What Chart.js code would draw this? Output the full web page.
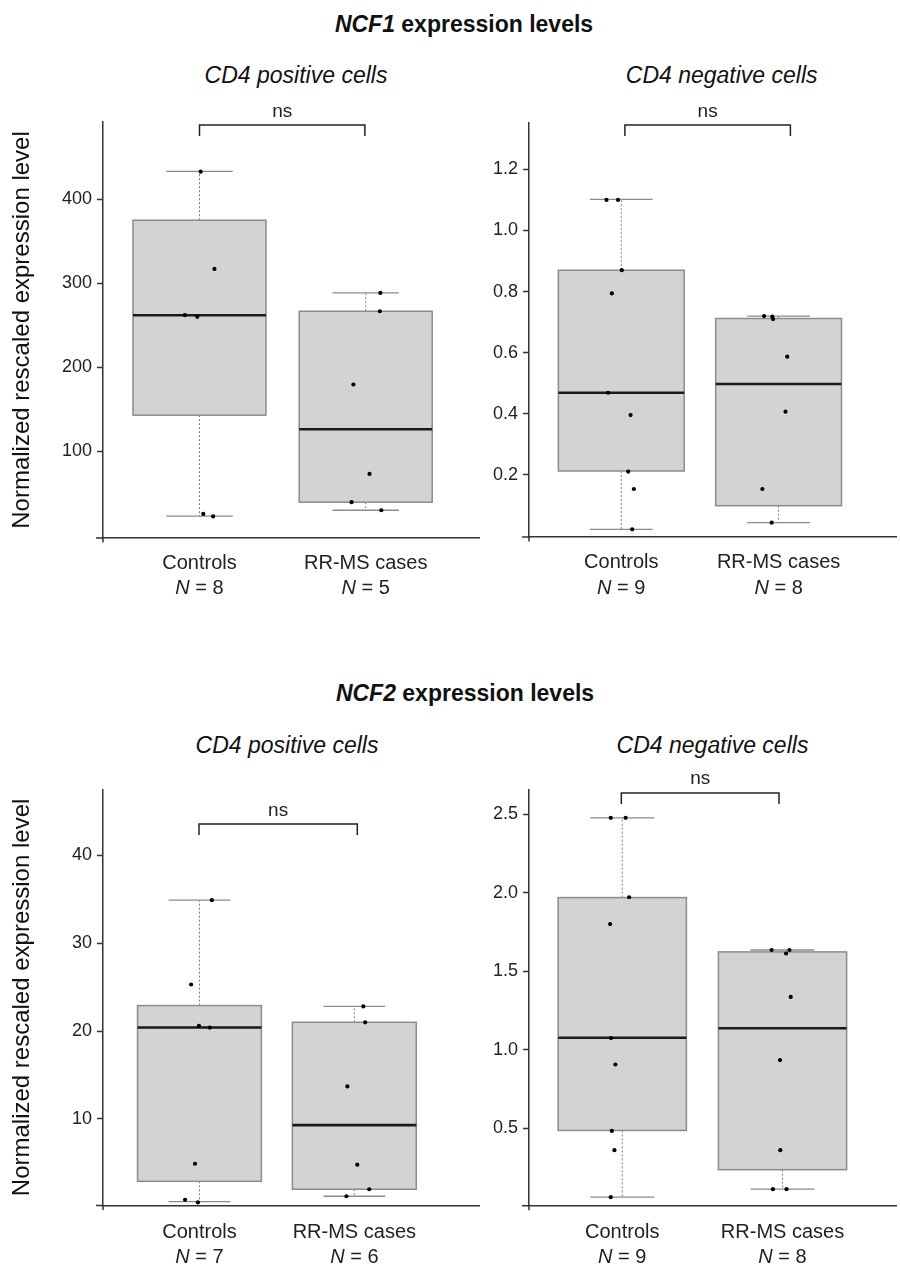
<!DOCTYPE html>
<html><head><meta charset="utf-8">
<script src="https://cdn.jsdelivr.net/npm/chart.js@4.4.1/dist/chart.umd.min.js"></script>
<style>
html,body{margin:0;padding:0;background:#fff;}
body{width:900px;height:1264px;position:relative;overflow:hidden;font-family:"Liberation Sans",Arial,Helvetica,sans-serif;}
.t{position:absolute;white-space:nowrap;color:#111;transform:translateX(-50%);line-height:1;}
.main{font-weight:bold;font-size:23px;}
.sub{font-style:italic;font-size:23px;}
canvas{position:absolute;}
</style></head><body>
<div class="t main" style="left:464px;top:12.5px;"><i>NCF1</i> expression levels</div>
<div class="t sub" style="left:296px;top:63.5px;">CD4 positive cells</div>
<div class="t sub" style="left:721.7px;top:63.5px;">CD4 negative cells</div>
<div class="t main" style="left:465px;top:682.2px;"><i>NCF2</i> expression levels</div>
<div class="t sub" style="left:287px;top:733.5px;">CD4 positive cells</div>
<div class="t sub" style="left:712.5px;top:733.5px;">CD4 negative cells</div>
<script>
// ---------- data ----------
const categories = ["Controls", "RR-MS cases"];
const yTitle = "Normalized rescaled expression level";

// box stats: [lower whisker, Q1, median, Q3, upper whisker]
// NCF1 – CD4 positive cells
const ncf1PosN = [8, 5];
const ncf1PosTicks = ["100", "200", "300", "400"];
const ncf1PosCtrlBox = [22.3, 142.7, 261.9, 375.1, 433.3];
const ncf1PosRRBox = [29.4, 39.0, 126.0, 266.6, 288.4];
const ncf1PosCtrlPts = [433, 317, 262, 260, 25, 22];
const ncf1PosCtrlJit = [0.007, 0.09, -0.088, -0.013, 0.023, 0.082];
const ncf1PosRRPts = [288.4, 266.6, 179.3, 72.7, 39.0, 29.4];
const ncf1PosRRJit = [0.088, 0.085, -0.074, 0.023, -0.085, 0.094];

// NCF1 – CD4 negative cells
const ncf1NegN = [9, 8];
const ncf1NegTicks = ["0.2", "0.4", "0.6", "0.8", "1.0", "1.2"];
const ncf1NegCtrlBox = [0.022, 0.213, 0.469, 0.870, 1.102];
const ncf1NegRRBox = [0.044, 0.0995, 0.4975, 0.712, 0.720];
const ncf1NegCtrlPts = [1.10, 1.10, 0.87, 0.794, 0.469, 0.396, 0.211, 0.154, 0.022];
const ncf1NegCtrlJit = [-0.094, -0.021, 0.003, -0.060, -0.084, 0.059, 0.044, 0.080, 0.069];
const ncf1NegRRPts = [0.720, 0.718, 0.710, 0.587, 0.407, 0.154, 0.044];
const ncf1NegRRJit = [-0.092, -0.040, -0.035, 0.055, 0.044, -0.103, -0.044];

// NCF2 – CD4 positive cells
const ncf2PosN = [7, 6];
const ncf2PosTicks = ["10", "20", "30", "40"];
const ncf2PosCtrlBox = [0.6, 2.9, 20.4, 22.9, 34.9];
const ncf2PosRRBox = [1.2, 2.0, 9.3, 21.0, 22.8];
const ncf2PosCtrlPts = [34.9, 25.3, 20.6, 20.4, 4.9, 0.8, 0.5];
const ncf2PosCtrlJit = [0.080, -0.054, -0.003, 0.067, -0.029, -0.093, -0.010];
const ncf2PosRRPts = [22.8, 21.0, 13.7, 4.8, 2.0, 1.2];
const ncf2PosRRJit = [0.058, 0.070, -0.045, 0.019, 0.096, -0.051];

// NCF2 – CD4 negative cells
const ncf2NegN = [9, 8];
const ncf2NegTicks = ["0.5", "1.0", "1.5", "2.0", "2.5"];
const ncf2NegCtrlBox = [0.062, 0.487, 1.077, 1.970, 2.478];
const ncf2NegRRBox = [0.113, 0.237, 1.138, 1.624, 1.636];
const ncf2NegCtrlPts = [2.478, 2.478, 1.972, 1.801, 1.075, 0.907, 0.484, 0.361, 0.062];
const ncf2NegCtrlJit = [-0.072, 0.021, 0.043, -0.076, -0.070, -0.043, -0.065, -0.049, -0.072];
const ncf2NegRRPts = [1.636, 1.636, 1.614, 1.337, 0.935, 0.361, 0.113, 0.113];
const ncf2NegRRJit = [-0.068, 0.043, 0.022, 0.051, -0.016, -0.014, -0.060, 0.025];

// ---------- drawing ----------
const FONT = '"Liberation Sans", Arial, Helvetica, sans-serif';
Chart.defaults.font.family = FONT;

function panel(o) {
  const cv = document.createElement('canvas');
  cv.width = o.w; cv.height = o.h;
  cv.style.left = o.left + 'px'; cv.style.top = o.top + 'px';
  cv.style.width = o.w + 'px'; cv.style.height = o.h + 'px';
  document.body.appendChild(cv);
  const toPts = (vals, jit, c) => vals.map((v, i) => ({x: c + jit[i], y: v}));

  const boxPlugin = {
    id: 'boxes_' + o.id,
    beforeDatasetsDraw(chart) {
      const {ctx, scales: {x, y}} = chart;
      o.boxes.forEach((b, i) => {
        const c = i + 1;
        const cx = x.getPixelForValue(c);
        const bl = x.getPixelForValue(c - 0.4), br = x.getPixelForValue(c + 0.4);
        const kl = x.getPixelForValue(c - 0.2), kr = x.getPixelForValue(c + 0.2);
        const [wlo, q1, med, q3, whi] = b.map(v => y.getPixelForValue(v));
        ctx.save();
        ctx.strokeStyle = '#7a7a7a'; ctx.lineWidth = 1; ctx.setLineDash([2, 2]);
        ctx.beginPath();
        ctx.moveTo(cx, q3); ctx.lineTo(cx, whi);
        ctx.moveTo(cx, q1); ctx.lineTo(cx, wlo);
        ctx.stroke();
        ctx.setLineDash([]);
        ctx.strokeStyle = '#8c8c8c'; ctx.lineWidth = 1.3;
        ctx.beginPath();
        ctx.moveTo(kl, whi); ctx.lineTo(kr, whi);
        ctx.moveTo(kl, wlo); ctx.lineTo(kr, wlo);
        ctx.stroke();
        ctx.fillStyle = '#d3d3d3';
        ctx.fillRect(bl, q3, br - bl, q1 - q3);
        ctx.strokeStyle = '#8c8c8c'; ctx.lineWidth = 1.5;
        ctx.strokeRect(bl, q3, br - bl, q1 - q3);
        ctx.strokeStyle = '#1a1a1a'; ctx.lineWidth = 2.6;
        ctx.beginPath(); ctx.moveTo(bl, med); ctx.lineTo(br, med); ctx.stroke();
        ctx.restore();
      });
    },
    afterDraw(chart) {
      const {ctx, chartArea: a, scales: {x}} = chart;
      ctx.save();
      ctx.strokeStyle = '#333'; ctx.lineWidth = 1.5;
      ctx.beginPath();
      ctx.moveTo(a.left - 7, a.bottom); ctx.lineTo(a.left, a.bottom);
      ctx.moveTo(a.left, a.bottom); ctx.lineTo(a.left, a.bottom + 4.5);
      ctx.stroke();
      const by = a.top + o.bracketTop;
      const bx1 = x.getPixelForValue(o.bracketX[0]), bx2 = x.getPixelForValue(o.bracketX[1]);
      ctx.strokeStyle = '#222'; ctx.lineWidth = 1.5;
      ctx.beginPath();
      ctx.moveTo(bx1, by + 11); ctx.lineTo(bx1, by); ctx.lineTo(bx2, by); ctx.lineTo(bx2, by + 11);
      ctx.stroke();
      ctx.fillStyle = '#222'; ctx.textBaseline = 'alphabetic';
      ctx.font = '19px ' + FONT; ctx.textAlign = 'center';
      ctx.fillText('ns', (bx1 + bx2) / 2, by - 8.5);
      const nIt = 'italic 20px ' + FONT, nRg = '20px ' + FONT;
      categories.forEach((cat, i) => {
        const px = x.getPixelForValue(i + 1);
        ctx.font = nRg; ctx.textAlign = 'center';
        ctx.fillText(cat, px, a.bottom + o.lab1);
        ctx.font = nIt; const w1 = ctx.measureText('N').width;
        const rest = ' = ' + o.n[i];
        ctx.font = nRg; const w2 = ctx.measureText(rest).width;
        const sx = px - (w1 + w2) / 2;
        ctx.textAlign = 'left';
        ctx.font = nIt; ctx.fillText('N', sx, a.bottom + o.lab2);
        ctx.font = nRg; ctx.fillText(rest, sx + w1, a.bottom + o.lab2);
      });
      ctx.restore();
    }
  };

  new Chart(cv, {
    type: 'scatter',
    data: {
      datasets: [
        {data: toPts(o.ctrlPts, o.ctrlJit, 1)},
        {data: toPts(o.rrPts, o.rrJit, 2)}
      ]
    },
    options: {
      responsive: false, animation: false, devicePixelRatio: 1, events: [],
      layout: {padding: {top: o.padTop, left: 0, right: 0, bottom: 0}},
      elements: {point: {radius: 2.1, backgroundColor: '#000', borderWidth: 0}},
      plugins: {legend: {display: false}, tooltip: {enabled: false}},
      scales: {
        x: {
          type: 'linear', min: o.xmin, max: o.xmax,
          ticks: {display: false},
          grid: {display: false, drawTicks: false},
          border: {display: true, color: '#333', width: 1.5},
          afterFit: s => { s.height = o.xh; }
        },
        y: {
          type: 'linear', min: o.ymin, max: o.ymax,
          afterBuildTicks: s => { s.ticks = o.ticks.map(t => ({value: parseFloat(t)})); },
          ticks: {
            callback: (v, i) => o.ticks[i],
            font: {size: 18, family: FONT}, color: '#222', padding: 5, autoSkip: false
          },
          grid: {drawOnChartArea: false, drawTicks: true, tickLength: 6, tickColor: '#333', tickWidth: 1.5},
          border: {display: true, color: '#333', width: 1.5},
          title: o.yTitle ? {display: true, text: yTitle, font: {size: 24, family: FONT}, color: '#111', padding: {top: 8, bottom: 0}} : {display: false},
          afterFit: s => { s.width = o.yw; }
        }
      }
    },
    plugins: [boxPlugin]
  });
}

panel({id: 'tl', left: 0, top: 90, w: 483, h: 520, padTop: 32, xh: 72, yw: 103,
  xmin: 0.4196, xmax: 2.6815, ymin: -3.7, ymax: 492.2, ticks: ncf1PosTicks, yTitle: true,
  boxes: [ncf1PosCtrlBox, ncf1PosRRBox], ctrlPts: ncf1PosCtrlPts, ctrlJit: ncf1PosCtrlJit,
  rrPts: ncf1PosRRPts, rrJit: ncf1PosRRJit, n: ncf1PosN,
  bracketTop: 3, bracketX: [1.0, 1.995], lab1: 30.5, lab2: 56});

panel({id: 'tr', left: 450, top: 90, w: 450, h: 520, padTop: 32.7, xh: 73, yw: 79,
  xmin: 0.4132, xmax: 2.7465, ymin: -0.003, ymax: 1.3527, ticks: ncf1NegTicks, yTitle: false,
  boxes: [ncf1NegCtrlBox, ncf1NegRRBox], ctrlPts: ncf1NegCtrlPts, ctrlJit: ncf1NegCtrlJit,
  rrPts: ncf1NegRRPts, rrJit: ncf1NegRRJit, n: ncf1NegN,
  bracketTop: 2.3, bracketX: [1.023, 2.075], lab1: 31, lab2: 57});

panel({id: 'bl', left: 0, top: 760, w: 483, h: 504, padTop: 29.4, xh: 58.5, yw: 103,
  xmin: 0.377, xmax: 2.805, ymin: 0.15, ymax: 47.5, ticks: ncf2PosTicks, yTitle: true,
  boxes: [ncf2PosCtrlBox, ncf2PosRRBox], ctrlPts: ncf2PosCtrlPts, ctrlJit: ncf2PosCtrlJit,
  rrPts: ncf2PosRRPts, rrJit: ncf2PosRRJit, n: ncf2PosN,
  bracketTop: 34.7, bracketX: [0.997, 2.019], lab1: 32.8, lab2: 57.2});

panel({id: 'br', left: 450, top: 760, w: 450, h: 504, padTop: 29.4, xh: 58.2, yw: 79,
  xmin: 0.4179, xmax: 2.708, ymin: 0.007, ymax: 2.659, ticks: ncf2NegTicks, yTitle: false,
  boxes: [ncf2NegCtrlBox, ncf2NegRRBox], ctrlPts: ncf2NegCtrlPts, ctrlJit: ncf2NegCtrlJit,
  rrPts: ncf2NegRRPts, rrJit: ncf2NegRRJit, n: ncf2NegN,
  bracketTop: 3.5, bracketX: [0.994, 1.978], lab1: 32, lab2: 57});
</script>
</body></html>
